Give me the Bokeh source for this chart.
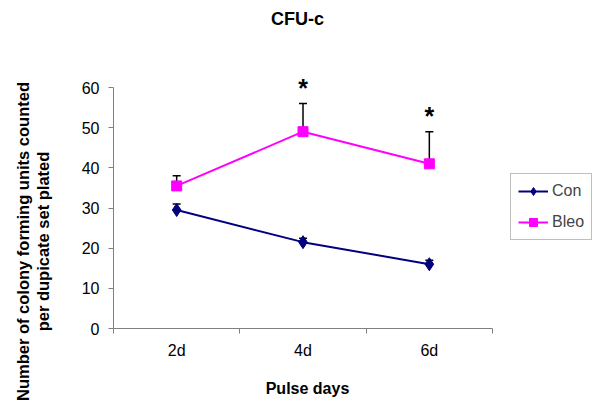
import math
from bokeh.plotting import figure
from bokeh.models import (ColumnDataSource, Range1d, FixedTicker, Whisker, TeeHead,
                          Label, Legend, LegendItem)
from bokeh.core.properties import value
from bokeh.embed import file_html
from bokeh.resources import INLINE

categories = ["2d", "4d", "6d"]
con_mean = [29.5, 21.5, 16.0]
con_upper = [31.0, 22.5, 17.0]
bleo_mean = [35.5, 49.0, 41.0]
bleo_upper = [38.0, 56.0, 49.0]
significant = [False, True, True]
y_ticks = [0, 10, 20, 30, 40, 50, 60]

FONT = "Liberation Sans"
W, H = 600, 416
# plot-area placement inside the canvas (pixels)
AX_L, AX_R, AX_T, AX_B = 113, 492, 87, 328
n = len(categories)
y_max = 60
sx = (AX_R - AX_L) / n
sy = (AX_B - AX_T) / y_max

xs = [i + 0.5 for i in range(n)]
con_src = ColumnDataSource(dict(x=xs, y=con_mean, up=con_upper))
bleo_src = ColumnDataSource(dict(x=xs, y=bleo_mean, up=bleo_upper))
star_src = ColumnDataSource(dict(
    x=[x for x, s in zip(xs, significant) if s],
    y=[u for u, s in zip(bleo_upper, significant) if s],
    t=["*" for s in significant if s]))

p = figure(width=W, height=H, output_backend="svg", toolbar_location=None,
           x_range=Range1d(-AX_L / sx, n + (W - AX_R) / sx),
           y_range=Range1d(-(H - AX_B) / sy, y_max + AX_T / sy),
           min_border=0)
p.outline_line_color = None
p.grid.grid_line_color = None

# axes (fixed at the data origin)
p.yaxis.fixed_location = 0
p.yaxis.bounds = (0, y_max)
p.yaxis.ticker = FixedTicker(ticks=y_ticks)
p.yaxis.major_tick_out = 5
p.yaxis.major_tick_in = 0
p.yaxis.minor_tick_out = 0
p.yaxis.minor_tick_in = 0
p.yaxis.axis_line_color = "#808080"
p.yaxis.major_tick_line_color = "#808080"
p.yaxis.major_label_text_font = FONT
p.yaxis.major_label_text_font_size = "16px"
p.yaxis.major_label_text_color = "black"
p.yaxis.major_label_standoff = 9

p.xaxis.fixed_location = 0
p.xaxis.bounds = (0, n)
p.xaxis.ticker = FixedTicker(ticks=xs, minor_ticks=list(range(n + 1)))
p.xaxis.major_label_overrides = {x: c for x, c in zip(xs, categories)}
p.xaxis.major_tick_out = 0
p.xaxis.major_tick_in = 0
p.xaxis.minor_tick_out = 5
p.xaxis.minor_tick_in = 0
p.xaxis.axis_line_color = "#808080"
p.xaxis.minor_tick_line_color = "#808080"
p.xaxis.major_label_text_font = FONT
p.xaxis.major_label_text_font_size = "16px"
p.xaxis.major_label_text_color = "black"
p.xaxis.major_label_standoff = 8

# error bars
for src in (con_src, bleo_src):
    w = Whisker(source=src, base="x", lower="y", upper="up", dimension="height",
                line_color="black", line_width=1.5,
                upper_head=TeeHead(size=8, line_color="black", line_width=1.5),
                lower_head=None)
    p.add_layout(w)

con_line = p.line("x", "y", source=con_src, line_color="#000080", line_width=2)
con_mark = p.scatter("x", "y", source=con_src, marker="diamond", size=13,
                     fill_color="#000080", line_color="#000080")
bleo_line = p.line("x", "y", source=bleo_src, line_color="#FF00FF", line_width=2)
bleo_mark = p.scatter("x", "y", source=bleo_src, marker="square", size=10,
                      fill_color="#FF00FF", line_color="#FF00FF")

p.text("x", "y", text="t", source=star_src, text_font=value(FONT),
       text_font_size="25px", text_font_style="bold", text_align="center",
       text_baseline="bottom", y_offset=-2, text_color="black")

def add_label(text, x, y, size, angle=0.0):
    p.add_layout(Label(x=x, y=H - y, x_units="screen", y_units="screen", text=text,
                       angle=angle, text_font=FONT, text_font_size=size,
                       text_font_style="bold", text_color="black",
                       text_align="center", text_baseline="middle"))

add_label("CFU-c", 297, 18, "18px")
add_label("Pulse days", 307, 388, "16px")
add_label("Number of colony forming units counted", 22, 241, "16.5px", math.pi / 2)
add_label("per dupicate set plated", 42, 241, "16.5px", math.pi / 2)

legend = Legend(items=[LegendItem(label="Con", renderers=[con_line, con_mark]),
                       LegendItem(label="Bleo", renderers=[bleo_line, bleo_mark])],
                location=(510, H - 240), label_text_font=FONT,
                label_text_font_size="16px",
                border_line_color="#808080", border_line_width=1,
                glyph_width=30, glyph_height=20, label_height=20, spacing=11,
                padding=7, margin=0, label_standoff=4, background_fill_alpha=1)
p.add_layout(legend)

open("out.html", "w").write(file_html(p, INLINE))
